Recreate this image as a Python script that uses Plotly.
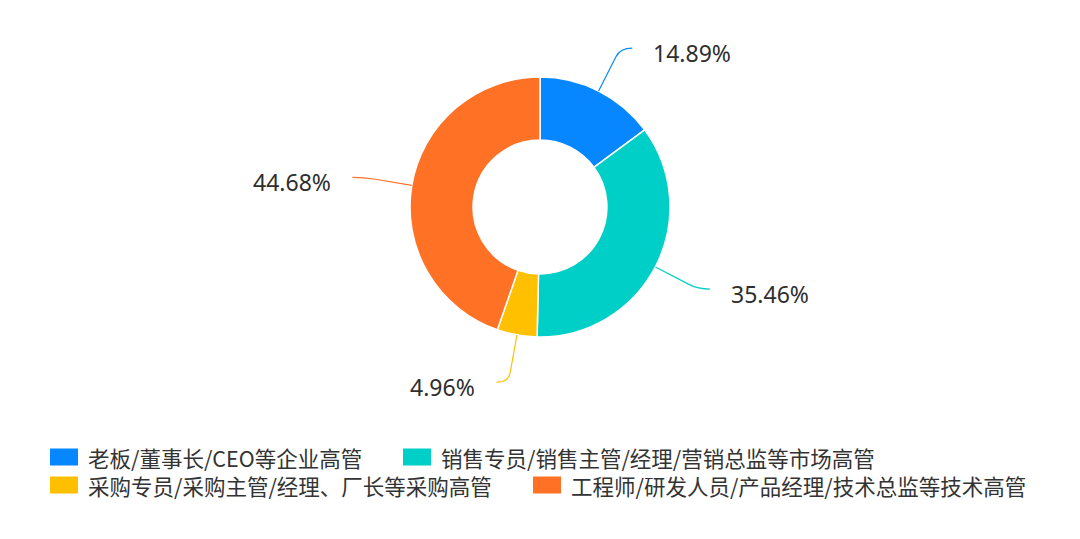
import math
import plotly.graph_objects as go

# ---- data ----
categories = [
    "老板/董事长/CEO等企业高管",
    "销售专员/销售主管/经理/营销总监等市场高管",
    "采购专员/采购主管/经理、厂长等采购高管",
    "工程师/研发人员/产品经理/技术总监等技术高管",
]
counts = [21, 50, 7, 63]
colors = ["#0787ff", "#00cfc8", "#ffc000", "#ff7124"]

# ---- layout constants (pixels, in screenshot coordinates) ----
W, H = 1080, 539
OFF = 8  # page body margin
CX, CY, R = 540, 207, 130
HOLE = 0.515
ELBOW_R = 178
HSEG = 12
TXT_GAP = 19
LABEL_FONT = dict(family="Noto Sans, Noto Sans CJK SC, sans-serif", size=23, color="#2e2e2e")
LEG_FONT = dict(family="Noto Sans CJK SC, Noto Sans, sans-serif", size=21.5, color="#333333")

def px(x):
    return (x - OFF) / W

def py(y):
    return 1 - (y - OFF) / H

fig = go.Figure()
fig.add_trace(go.Pie(
    labels=categories,
    values=counts,
    sort=False,
    direction="clockwise",
    rotation=0,
    hole=HOLE,
    marker=dict(colors=colors, line=dict(color="#ffffff", width=1.5)),
    textinfo="none",
    hoverinfo="label+percent",
    showlegend=False,
    domain=dict(x=[px(CX - R), px(CX + R)], y=[py(CY + R), py(CY - R)]),
))

total = sum(counts)
shapes = []
annotations = []
cum = 0
for cat, v, col in zip(categories, counts, colors):
    frac = v / total
    mid = (cum + frac / 2) * 2 * math.pi
    cum += frac
    s, c = math.sin(mid), math.cos(mid)
    x0, y0 = CX + R * s, CY - R * c
    x1, y1 = CX + ELBOW_R * s, CY - ELBOW_R * c
    side = 1 if s >= 0 else -1
    x2, y2 = x1 + side * HSEG, y1
    xa, ya = x0 + 0.8 * (x1 - x0), y0 + 0.8 * (y1 - y0)
    path = (f"M {px(x0)} {py(y0)} L {px(xa)} {py(ya)} "
            f"Q {px(x1)} {py(y1)} {px(x2)} {py(y2)}")
    shapes.append(dict(type="path", path=path, xref="paper", yref="paper",
                       line=dict(color=col, width=1.2)))
    annotations.append(dict(
        x=px(x2 + side * TXT_GAP), y=py(y2 + 5), xref="paper", yref="paper",
        text=f"{frac * 100:.2f}%", showarrow=False,
        xanchor="left" if side > 0 else "right", yanchor="middle",
        font=LABEL_FONT,
    ))

# ---- custom legend (two rows) ----
leg_pos = [(50, 457), (403, 457), (50, 485), (533, 485)]
SQ_W, SQ_H = 28, 17
for (lx, ly), cat, col in zip(leg_pos, categories, colors):
    shapes.append(dict(type="rect", xref="paper", yref="paper",
                       x0=px(lx), x1=px(lx + SQ_W),
                       y0=py(ly + SQ_H / 2), y1=py(ly - SQ_H / 2),
                       fillcolor=col, line=dict(width=0)))
    annotations.append(dict(
        x=px(lx + SQ_W + 8), y=py(ly), xref="paper", yref="paper",
        text=cat, showarrow=False, xanchor="left", yanchor="middle",
        font=LEG_FONT,
    ))

fig.update_layout(
    width=W, height=H,
    margin=dict(l=0, r=0, t=0, b=0),
    paper_bgcolor="#ffffff",
    plot_bgcolor="#ffffff",
    shapes=shapes,
    annotations=annotations,
    showlegend=False,
)

fig.write_html("out.html")
